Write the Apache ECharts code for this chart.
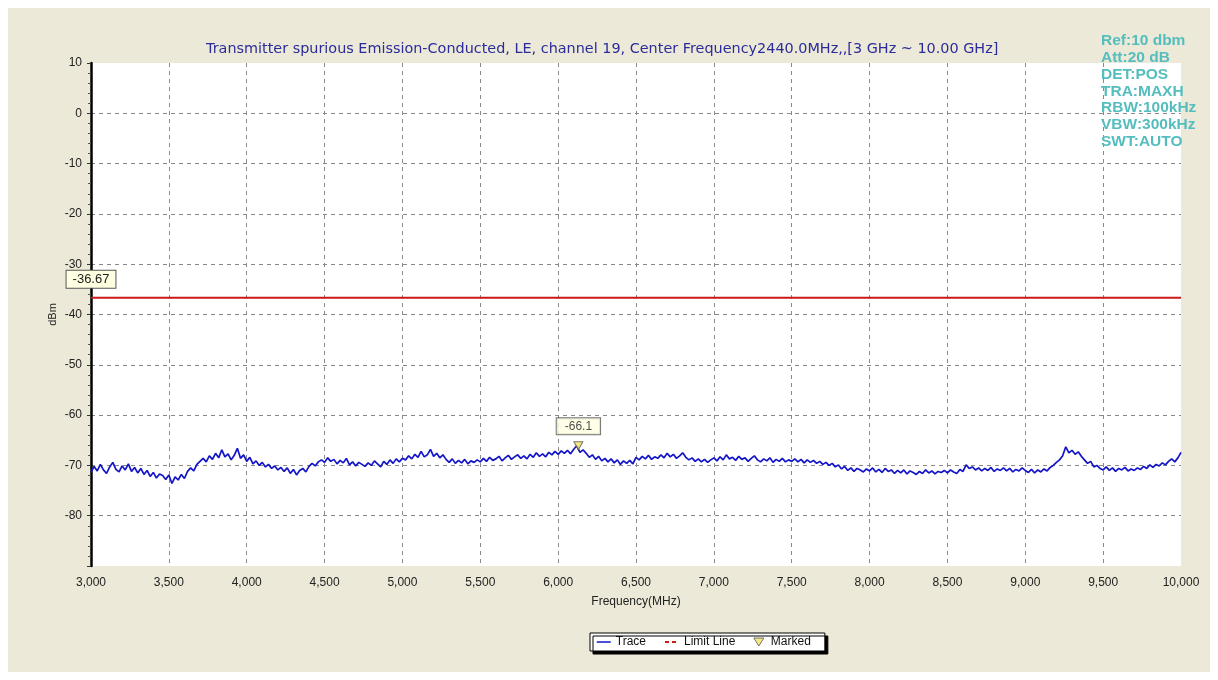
<!DOCTYPE html>
<html>
<head>
<meta charset="utf-8">
<script src="https://cdn.jsdelivr.net/npm/echarts@6/dist/echarts.min.js"></script>
<style>
	html, body { margin: 0; padding: 0; background: #ffffff; }
	#chart { position: absolute; left: 8px; top: 8px; width: 1202px; height: 664px; background: #ece9d8; }
</style>
</head>
<body>
<div id="chart"></div>
<script>
// trace, 20 MHz steps from 3000 to 10000 MHz (one row = 500 MHz)
var freqStart = 3000
var freqStep = 20
var traceValues = [
	-71.4, -70.2, -71.1, -69.8, -70.9, -71.6, -70.3, -69.4, -70.8, -71.3, -70.1, -70.9, -69.7, -71.2, -70.4, -71.5, -70.6, -71.8, -71.0, -72.2, -71.4, -72.5, -71.7, -72.0, -72.8,
	-71.9, -73.6, -72.3, -72.9, -71.8, -72.6, -71.2, -70.5, -71.1, -69.8, -69.2, -68.6, -69.3, -68.1, -68.8, -67.6, -68.5, -66.9, -68.3, -67.7, -68.9, -68.0, -66.6, -68.6, -67.9,
	-69.2, -68.4, -69.7, -69.1, -70.0, -69.4, -70.3, -69.8, -70.6, -70.1, -70.9, -70.4, -71.2, -70.5, -71.6, -70.8, -71.9, -71.0, -70.6, -71.3, -70.2, -69.6, -70.1, -69.3, -68.9,
	-69.4, -68.5, -69.2, -68.8, -69.7, -69.0, -69.5, -68.6, -69.9, -69.3, -70.1, -69.4, -69.8, -70.2, -69.5, -70.0, -69.1, -69.7, -70.3, -69.2, -69.8, -68.9, -69.6, -68.7, -69.3,
	-68.6, -68.9, -68.1, -68.7, -67.8, -68.4, -67.2, -68.3, -67.9, -66.8, -68.2, -67.6, -68.5, -67.9, -68.8, -69.4, -68.7, -69.6, -69.0, -69.5, -68.8, -69.7, -69.1, -69.4, -68.9,
	-69.3, -68.6, -69.2, -68.4, -69.0, -68.7, -68.2, -69.1, -68.5, -68.0, -68.8, -68.3, -67.9, -68.6, -68.1, -68.7, -67.8, -68.4, -67.5, -68.2, -67.7, -68.3, -67.4, -67.9, -67.2,
	-67.8, -67.1, -67.6, -67.0, -67.7, -66.8, -66.1, -67.4, -66.9, -67.6, -68.4, -67.9, -68.8, -68.2, -69.1, -68.6, -69.3, -68.7, -69.5, -68.9, -69.8, -69.1, -69.6, -69.0, -69.7,
	-68.4, -68.9, -68.2, -68.7, -68.0, -68.8, -68.3, -68.6, -67.9, -68.5, -67.6, -68.3, -67.8, -68.6, -68.1, -67.5, -68.4, -68.9, -68.5, -69.2, -68.7, -69.3, -68.8, -69.4, -68.9,
	-68.5, -69.1, -68.3, -68.9, -67.9, -68.7, -68.4, -69.0, -68.2, -68.8, -68.5, -69.2, -68.6, -68.1, -68.9, -69.3, -68.7, -69.1, -68.5, -69.4, -68.8, -69.2, -68.6, -69.3, -68.9,
	-69.2, -68.7, -69.3, -68.8, -69.5, -68.9, -69.4, -69.0, -69.6, -69.2, -69.8, -69.4, -70.0, -69.6, -70.3, -69.9, -70.7, -70.2, -71.0, -70.5, -71.2, -70.6, -70.9, -71.3, -70.7,
	-71.1, -70.5, -71.3, -70.8, -71.4, -70.6, -71.2, -70.9, -71.6, -71.0, -71.5, -70.9, -71.7, -71.1, -71.4, -71.8, -71.2, -71.6, -70.9, -71.5, -71.1, -71.7, -71.2, -71.4, -71.0,
	-71.5, -70.9, -71.3, -71.6, -70.8, -71.2, -69.9, -70.6, -70.3, -70.9, -70.5, -71.1, -70.6, -71.0, -70.4, -71.2, -70.7, -71.0, -70.5, -71.1, -70.6, -71.3, -70.8, -71.1, -70.5,
	-71.0, -71.4, -70.8, -71.5, -70.9, -71.3, -70.7, -71.1, -70.4, -70.0, -69.4, -68.9, -68.1, -66.3, -67.5, -67.0, -67.8, -67.3, -68.2, -68.9, -69.6, -69.2, -70.3, -70.0, -70.6,
	-70.9, -70.3, -71.0, -70.5, -71.2, -70.6, -70.9, -70.4, -71.1, -70.7, -71.0, -70.5, -70.8, -70.2, -70.6, -69.9, -70.4, -69.8, -70.1, -69.5, -69.9, -69.2, -68.7, -69.3, -68.5,
	-67.4
]
var limitValue = -36.67
var markedPoint = [6130, -66.1]
var yTicks = [10, 0, -10, -20, -30, -40, -50, -60, -70, -80]
var infoLines = ['Ref:10 dbm', 'Att:20 dB', 'DET:POS', 'TRA:MAXH', 'RBW:100kHz', 'VBW:300kHz', 'SWT:AUTO']

var traceData = traceValues.map(function(v, i) {
	return [freqStart + i * freqStep, v]
})

var chart = echarts.init(document.getElementById('chart'))

var font = '"Liberation Sans", Arial, sans-serif'

chart.setOption({
	animation: false,
	textStyle: { fontFamily: font },
	title: {
		text: 'Transmitter spurious Emission-Conducted, LE, channel 19, Center Frequency2440.0MHz,,[3 GHz ~ 10.00 GHz]',
		left: 198,
		top: 34,
		padding: 0,
		textStyle: { fontSize: 14.4, fontWeight: 'normal', color: '#2b2b9a', fontFamily: '"DejaVu Sans", sans-serif' },
	},
	grid: {
		left: 83,
		right: 29,
		top: 55,
		bottom: 106,
		show: true,
		backgroundColor: '#ffffff',
		borderWidth: 0,
	},
	legend: {
		left: 582,
		top: 625,
		padding: [3, 14, 3, 6],
		itemGap: 18,
		itemWidth: 14,
		itemHeight: 8,
		backgroundColor: '#ffffff',
		borderColor: '#000000',
		borderWidth: 1,
		shadowColor: '#000000',
		shadowOffsetX: 3,
		shadowOffsetY: 3,
		shadowBlur: 0,
		textStyle: { fontSize: 12, color: '#111' },
		data: [
			{ name: 'Trace', itemStyle: { opacity: 0 }, lineStyle: { width: 1.5 } },
			{ name: 'Limit Line', itemStyle: { opacity: 0 }, lineStyle: { type: [4, 3], width: 2 } },
			{ name: 'Marked', icon: 'path://M0,0L10,0L5,8Z', itemStyle: { color: '#f2e36a', borderColor: '#555', borderWidth: 1 } },
		],
	},
	xAxis: {
		type: 'value',
		min: 3000,
		max: 10000,
		interval: 500,
		name: 'Frequency(MHz)',
		nameLocation: 'middle',
		nameGap: 30,
		nameTextStyle: { fontSize: 12, color: '#222' },
		axisLine: { show: false },
		axisTick: { show: false },
		axisLabel: {
			fontSize: 12,
			color: '#222',
			margin: 11,
			formatter: function(v) {
				return v.toLocaleString('en-US')
			},
		},
		splitLine: { showMinLine: false, showMaxLine: false, lineStyle: { color: '#8a8a8a', type: [4, 4] } },
	},
	yAxis: {
		type: 'value',
		min: -90,
		max: 10,
		interval: 10,
		name: 'dBm',
		nameLocation: 'middle',
		nameGap: 33,
		nameMoveOverlap: false,
		nameRotate: 90,
		nameTextStyle: { fontSize: 11, color: '#222' },
		axisLine: { show: true, onZero: false, lineStyle: { color: '#000000', width: 2.5 } },
		axisTick: { show: true, length: 4, lineStyle: { color: '#333' } },
		minorTick: { show: true, splitNumber: 5, length: 3, lineStyle: { color: '#555' } },
		axisLabel: {
			fontSize: 12,
			color: '#222',
			margin: 9,
			formatter: function(v) {
				return yTicks.indexOf(v) >= 0 ? String(v) : ''
			},
		},
		splitLine: { showMinLine: false, showMaxLine: false, lineStyle: { color: '#8a8a8a', type: [4, 4] } },
	},
	series: [
		{
			name: 'Trace',
			type: 'line',
			data: traceData,
			symbol: 'none',
			color: '#1414c8',
			lineStyle: { width: 1.7, color: '#1414c8' },
			z: 3,
		},
		{
			name: 'Limit Line',
			type: 'line',
			data: [[3000, limitValue], [10000, limitValue]],
			symbol: 'none',
			color: '#cc1a1a',
			lineStyle: { width: 2, color: '#cc1a1a' },
			z: 2,
			markPoint: {
				symbol: 'circle',
				symbolSize: 0,
				data: [{ coord: [3000, limitValue] }],
				label: {
					show: true,
					position: 'top',
					distance: 10,
					formatter: String(limitValue),
					fontSize: 13,
					color: '#222',
					backgroundColor: '#ffffe1',
					borderColor: '#555',
					borderWidth: 1,
					padding: [2, 6],
				},
			},
		},
		{
			name: 'Marked',
			type: 'scatter',
			data: [markedPoint],
			symbol: 'triangle',
			symbolRotate: 180,
			symbolSize: [9, 8],
			itemStyle: { color: '#f2e36a', borderColor: '#555', borderWidth: 1 },
			z: 4,
			label: {
				show: true,
				position: 'top',
				distance: 7,
				formatter: String(markedPoint[1]),
				fontSize: 12,
				color: '#222',
				backgroundColor: '#ffffe1',
				borderColor: '#555',
				borderWidth: 1,
				padding: [2, 8],
			},
		},
	],
	graphic: infoLines.map(function(t, i) {
		return {
			type: 'text',
			left: 1093,
			top: 25 + i * 16.8,
			z: 10,
			style: {
				text: t,
				fill: '#55bdbd',
				font: 'bold 15.5px ' + font,
			},
		}
	}),
})
</script>
</body>
</html>
